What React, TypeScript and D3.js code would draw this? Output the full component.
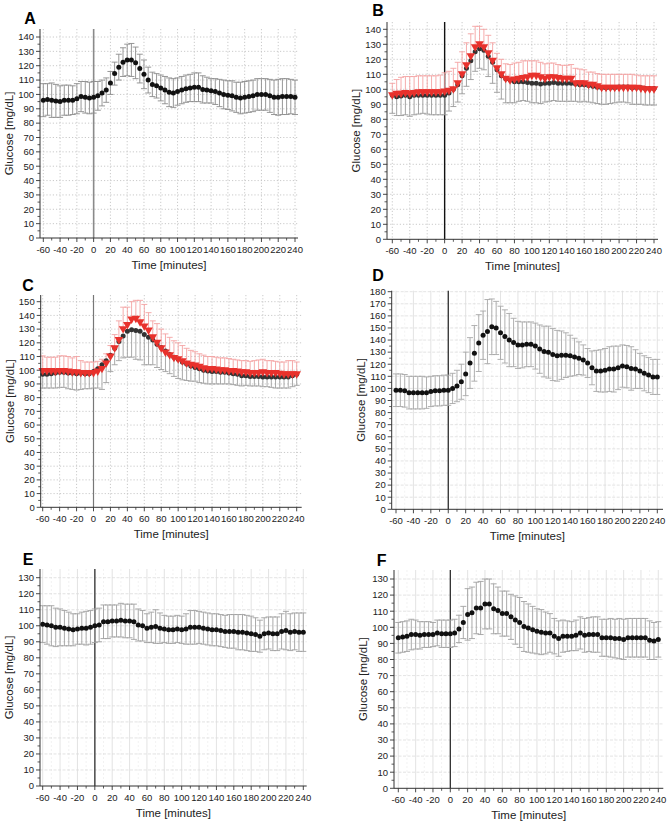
import * as d3 from "d3";

// sampling times (minutes relative to the meal)
const minutes = [
  -60, -55, -50, -45, -40, -35, -30, -25, -20, -15, -10, -5, 0, 5, 10, 15, 20, 25, 30, 35,
  40, 45, 50, 55, 60, 65, 70, 75, 80, 85, 90, 95, 100, 105, 110, 115, 120, 125, 130, 135,
  140, 145, 150, 155, 160, 165, 170, 175, 180, 185, 190, 195, 200, 205, 210, 215, 220, 225, 230, 235, 240,
];
const timeTicks = [-60, -40, -20, 0, 20, 40, 60, 80, 100, 120, 140, 160, 180, 200, 220, 240];

// A
const meanA = [
  96, 96.5, 96, 95.5, 95, 96, 96, 96, 97, 98.5, 98, 97.5, 98, 99, 101, 103, 108, 114.5, 119, 122.5,
  124, 124, 122, 118, 114, 110, 107, 106, 104.5, 103, 101.5, 101, 102, 103, 104, 104.5, 105, 105, 103.5, 103,
  102.5, 102, 101, 100, 99.5, 99, 98, 97.5, 98, 98.5, 99, 100, 100, 100, 99, 98, 98, 98.5, 98.5, 98.5, 98,
];
const sdA = [
  11.5, 11, 12, 11.5, 11, 10.5, 10.5, 10, 10.5, 10.5, 11, 11, 11, 10, 9, 8.5, 8, 8, 9, 10,
  11, 11.5, 11, 10, 10, 9, 8.5, 8.5, 9, 9.5, 10, 10, 9.5, 9.5, 9.5, 9.5, 10, 10, 9.5, 9,
  8.5, 9, 9.5, 10, 10, 10.5, 10.5, 11, 11, 11, 11, 11, 11, 11, 11.5, 12, 12.5, 12.5, 12.5, 12, 12,
];

// B
const meanB1 = [
  96, 95, 95.5, 96, 95, 96, 96, 96, 96, 96, 96, 96, 96, 97.5, 100, 103, 109, 114, 119, 125,
  127, 126, 122, 118, 113, 109, 107, 106, 105, 105, 105, 104.5, 104, 104, 103.5, 104, 104, 104.5, 104, 104,
  104, 104, 103.5, 103, 103, 102.5, 102, 101.5, 101, 101, 101, 101, 101.5, 101.5, 101.5, 101, 101, 101, 100.5, 100.5, 100.5,
];
const sdB1 = [
  12, 12.5, 13, 13, 13, 13, 12.5, 12, 12.5, 13, 13, 13, 13, 12, 11.5, 11.5, 12, 12, 12.5, 13,
  13, 13, 13.5, 14, 15, 15.5, 16, 15, 14, 13, 12.5, 12.5, 13, 13, 13, 12.5, 12, 12, 12, 12,
  12, 12, 11.5, 11.5, 11, 11, 11, 11, 11, 11, 10.5, 10, 10, 10, 10.5, 11, 11, 11, 11, 11, 11,
];
const meanB2 = [
  96, 97, 97, 97.5, 97, 97.5, 98, 98, 98, 98, 98, 98, 98.5, 99, 100, 104, 110, 116, 122, 128,
  130, 128, 124, 119, 114, 110, 107, 106, 106.5, 107, 107.5, 108, 109, 109, 108, 107, 108, 108, 107.5, 107,
  107, 107, 104, 104, 104, 103, 103, 102, 101, 101, 101, 101, 101, 101, 101, 101, 101, 100.5, 100, 100, 100,
];
const sdB2 = [
  8, 9.5, 11, 11, 11.5, 11, 11, 11, 11, 11, 11, 11.5, 12.5, 13, 14, 14, 15, 15, 15, 14,
  12, 12, 12, 12, 10, 10, 10, 10.5, 11, 11, 11.5, 11, 10, 10, 10, 10, 9.5, 9.5, 9, 9,
  9, 9.5, 10, 9.5, 9, 8.5, 8.5, 8.5, 9, 9, 9, 9, 9, 9, 9, 9, 8.5, 8.5, 9, 9, 9,
];

// C
const meanC1 = [
  97, 97, 97.5, 98, 98.5, 98.5, 98, 98, 97.5, 98, 97.5, 97.5, 99, 101, 104, 107, 111, 116, 121, 125,
  128.5, 129.5, 129, 128.5, 126, 124, 122, 119, 116.5, 114, 111.5, 109.5, 108, 106, 104.5, 103, 102, 101, 100, 99.5,
  99, 99, 98.5, 98.5, 98, 97.5, 97, 96, 96, 95.5, 95.5, 95.5, 95, 95, 95, 95, 95, 95, 95, 96, 97,
];
const sdC1 = [
  10, 10, 10.5, 11, 11, 11, 11.5, 12, 12, 12, 11, 11, 12, 14, 18, 16, 12, 12, 14, 16,
  19, 20, 21, 21, 22, 20, 18, 17, 16, 15, 14, 14, 14, 13, 12, 11, 10, 10, 9.5, 9.5,
  9, 9, 8.5, 8.5, 8, 8, 8, 7.5, 7, 7, 7, 7, 7, 7, 7.5, 8, 8, 8, 8, 8, 8,
];
const meanC2 = [
  99.5, 99.5, 99.5, 99, 99.5, 99.5, 99, 98.5, 98.5, 98, 98, 98, 98, 99, 101, 105, 110, 116, 122, 130,
  133, 137, 137.5, 135, 132, 129, 124, 120, 116, 113, 111, 109, 108, 106.5, 105, 104, 103.5, 102.5, 101.5, 101,
  101, 100.5, 100, 100, 99.5, 99.5, 99, 98.5, 98.5, 98, 98, 98, 98.5, 98, 98, 98, 97.5, 97, 97, 97, 97,
];
const sdC2 = [
  11, 10, 10, 10.5, 11, 11, 11, 10.5, 11.5, 9, 8, 8, 8, 7.5, 7, 7, 8, 10, 14, 16,
  13, 13, 13.5, 16, 16, 13, 12, 14, 14, 13.5, 13, 12.5, 12, 11.5, 11, 10.5, 10, 9.5, 9.5, 9,
  9, 9, 9, 9, 9, 8.5, 8.5, 8.5, 8.5, 8.5, 9, 9.5, 9.5, 9, 9, 8.5, 8.5, 9, 10, 10, 9,
];

// D
const meanD = [
  98.5, 98.5, 98, 96.5, 96.5, 96.5, 96.5, 96.5, 97.5, 98, 98, 98.5, 98.5, 100, 102, 105.5, 112, 121, 129, 137.5,
  144, 147, 151, 150, 146, 143, 140, 138, 136, 136, 136.5, 136.5, 135, 132.5, 130.5, 130, 128, 127, 127.5, 127.5,
  127, 126, 125, 123.5, 121, 117, 114.5, 114.5, 115, 116, 116, 117, 118.5, 118, 116.5, 116, 114.5, 112.5, 111, 109.5, 109.5,
];
const sdD = [
  13.5, 13.5, 13.5, 13.5, 13.5, 13.5, 13.5, 13, 12.5, 12.5, 12.5, 12.5, 12.5, 12.5, 13, 14.5, 18, 21, 23, 23.5,
  20, 26.5, 23, 22, 22, 22, 22, 20, 19.5, 19, 18.5, 18.5, 19, 20, 21, 21.5, 21.5, 21, 20, 18.5,
  17, 15.5, 13.5, 12.5, 12, 14, 17, 17.5, 18, 18.5, 19, 18, 17.5, 17.5, 18, 16, 14.5, 14.5, 14.5, 14.5, 14.5,
];

// E
const meanE = [
  101, 100.5, 100, 99, 99, 98.5, 98, 97.5, 98, 98.5, 98.5, 99, 100, 100.5, 102.5, 102.5, 103, 103, 103.5, 103,
  103, 102.5, 100.5, 100, 98.5, 99, 99.5, 98.5, 98, 97.5, 97.5, 98, 97.5, 98, 99, 99, 99, 98.5, 98, 97.5,
  97.5, 97, 96.5, 96.5, 96.5, 96, 96, 95.5, 95, 94.5, 93.5, 95, 95.5, 95, 95, 96.5, 97, 96, 96.5, 96, 96,
];
const sdE = [
  11.5, 12, 12.5, 12, 11.5, 11, 10.5, 10, 9.5, 10, 10.5, 10.5, 10.5, 10.5, 10.5, 10.5, 10, 10, 10.5, 10.5,
  10.5, 11, 10, 9.5, 9, 9.5, 10.5, 9.5, 8.5, 8.5, 8.5, 8.5, 8.5, 9.5, 10.5, 10.5, 10, 10, 10, 10,
  10, 10, 10, 10.5, 10.5, 11, 11, 11, 11, 10.5, 10, 10, 10, 10.5, 10.5, 11, 12, 11.5, 11.5, 12, 12,
];

// F
const meanF = [
  93.5, 94, 94.5, 95.5, 95.5, 95, 95.5, 95.5, 95.5, 96.5, 96, 96, 96, 96.5, 99, 103, 108, 109, 112, 112,
  114.5, 114.5, 111.5, 110.5, 108.5, 108.5, 106.5, 104.5, 103, 100.5, 99.5, 98.5, 97.5, 97, 96.5, 96.5, 94.5, 93, 94.5, 94.5,
  94.5, 95, 96.5, 95, 95.5, 95.5, 95.5, 93.5, 93.5, 93.5, 93, 93, 92.5, 93.5, 93.5, 93.5, 93.5, 93.5, 92, 91.5, 92.5,
];
const sdF = [
  9.5, 9.5, 9.5, 9.5, 9, 8.5, 8, 8, 7.5, 8, 8.5, 8.5, 8.5, 8.5, 8.5, 10, 16, 16, 16, 16.5,
  15.5, 15.5, 15.5, 14.5, 14, 14, 14, 15, 15.5, 15.5, 15, 14.5, 14, 14, 13, 12, 11, 11, 10, 9.5,
  9, 9.5, 10, 10.5, 10.5, 11, 11, 11.5, 11.5, 12, 12, 12.5, 12.5, 12, 12, 12, 12, 12, 12, 11.5, 11,
];

const FONT = "'Liberation Sans', Arial, sans-serif";

type Series = {
  mean: number[];
  sd: number[];
  mark: "dot" | "tri";
  fill: string;
  bars: "both" | "up" | "down";
  barColor: string;
};

type PanelCfg = {
  letter: string;
  lx: number;
  ly: number;
  left: number;
  right: number;
  x60: number;
  x240: number;
  y0: number;
  yMax: number;
  yMaxPx: number;
  top: number;
  grid: "dotted" | "solid";
  zeroColor: string;
  zeroWidth: number;
  series: Series[];
};

const panels: PanelCfg[] = [
  {
    letter: "A", lx: 30, ly: 18, left: 40, right: 298, x60: 43.3, x240: 295,
    y0: 238, yMax: 140, yMaxPx: 37, top: 29, grid: "dotted", zeroColor: "#8a8a8a", zeroWidth: 1.6,
    series: [{ mean: meanA, sd: sdA, mark: "dot", fill: "#111", bars: "both", barColor: "#8c8c8c" }],
  },
  {
    letter: "B", lx: 378, ly: 10, left: 387, right: 658, x60: 392.3, x240: 654,
    y0: 239.3, yMax: 140, yMaxPx: 29.3, top: 22, grid: "dotted", zeroColor: "#111", zeroWidth: 1.4,
    series: [
      { mean: meanB1, sd: sdB1, mark: "dot", fill: "#333", bars: "down", barColor: "#9a9a9a" },
      { mean: meanB2, sd: sdB2, mark: "tri", fill: "#e8312c", bars: "up", barColor: "#f4a3a3" },
    ],
  },
  {
    letter: "C", lx: 28, ly: 285, left: 40.7, right: 301.7, x60: 42.7, x240: 296.7,
    y0: 507.3, yMax: 150, yMaxPx: 301.7, top: 295, grid: "dotted", zeroColor: "#777", zeroWidth: 1.2,
    series: [
      { mean: meanC1, sd: sdC1, mark: "dot", fill: "#333", bars: "down", barColor: "#a0a0a0" },
      { mean: meanC2, sd: sdC2, mark: "tri", fill: "#e8312c", bars: "up", barColor: "#f4a3a3" },
    ],
  },
  {
    letter: "D", lx: 378, ly: 275, left: 391.7, right: 663, x60: 396, x240: 657.3,
    y0: 509.3, yMax: 180, yMaxPx: 291.7, top: 290.7, grid: "solid", zeroColor: "#222", zeroWidth: 1.2,
    series: [{ mean: meanD, sd: sdD, mark: "dot", fill: "#111", bars: "both", barColor: "#a8a8a8" }],
  },
  {
    letter: "E", lx: 28, ly: 559, left: 40, right: 306.7, x60: 42.7, x240: 303.3,
    y0: 786, yMax: 130, yMaxPx: 577.7, top: 569, grid: "solid", zeroColor: "#555", zeroWidth: 1.6,
    series: [{ mean: meanE, sd: sdE, mark: "dot", fill: "#111", bars: "both", barColor: "#a0a0a0" }],
  },
  {
    letter: "F", lx: 381.7, ly: 560, left: 394, right: 663.3, x60: 398.3, x240: 658.3,
    y0: 788.3, yMax: 130, yMaxPx: 579, top: 570, grid: "solid", zeroColor: "#222", zeroWidth: 1.2,
    series: [{ mean: meanF, sd: sdF, mark: "dot", fill: "#111", bars: "both", barColor: "#a0a0a0" }],
  },
];

const triPath = d3.symbol().type(d3.symbolTriangle).size(32)() as string;

const Panel = ({ cfg }: { cfg: PanelCfg }) => {
  const x = d3.scaleLinear().domain([-60, 240]).range([cfg.x60, cfg.x240]);
  const y = d3.scaleLinear().domain([0, cfg.yMax]).range([cfg.y0, cfg.yMaxPx]);
  const yTicks = d3.range(0, cfg.yMax + 1, 10);
  const yMinor = d3.range(5, cfg.yMax, 10);
  const xMinor = timeTicks.slice(0, -1).map((t) => t + 10);
  const cap = 3;
  const gridColor = cfg.grid === "dotted" ? "#bdbdbd" : "#dcdcdc";

  return (
    <g fontFamily={FONT}>
      {/* grid */}
      {cfg.grid === "solid" &&
        xMinor.map((t) => (
          <line key={"xm" + t} x1={x(t)} x2={x(t)} y1={cfg.top} y2={cfg.y0} stroke="#ececec" strokeWidth={0.7} strokeDasharray="2,2" />
        ))}
      {timeTicks.map((t) => (
        <line key={"xg" + t} x1={x(t)} x2={x(t)} y1={cfg.top} y2={cfg.y0} stroke={gridColor}
          strokeWidth={0.8} strokeDasharray={cfg.grid === "dotted" ? "1.2,2" : undefined} />
      ))}
      {yTicks.slice(1).map((v) => (
        <line key={"yg" + v} x1={cfg.left} x2={cfg.right} y1={y(v)} y2={y(v)} stroke={gridColor}
          strokeWidth={0.8} strokeDasharray={cfg.grid === "dotted" ? "1.2,2" : "3,1.5"} />
      ))}

      {/* meal time marker */}
      <line x1={x(0)} x2={x(0)} y1={cfg.top} y2={cfg.y0} stroke={cfg.zeroColor} strokeWidth={cfg.zeroWidth} />

      {/* error bars */}
      {cfg.series.map((s, si) => (
        <g key={"eb" + si} stroke={s.barColor} strokeWidth={0.9} fill="none">
          {minutes.map((t, i) => {
            const m = s.mean[i];
            const hi = s.bars === "down" ? m : m + s.sd[i];
            const lo = s.bars === "up" ? m : m - s.sd[i];
            const px = x(t);
            return (
              <g key={t}>
                <line x1={px} x2={px} y1={y(hi)} y2={y(lo)} />
                {s.bars !== "down" && <line x1={px - cap} x2={px + cap} y1={y(hi)} y2={y(hi)} />}
                {s.bars !== "up" && <line x1={px - cap} x2={px + cap} y1={y(lo)} y2={y(lo)} />}
              </g>
            );
          })}
        </g>
      ))}

      {/* markers */}
      {cfg.series.map((s, si) => (
        <g key={"mk" + si} fill={s.fill}>
          {minutes.map((t, i) =>
            s.mark === "dot" ? (
              <circle key={t} cx={x(t)} cy={y(s.mean[i])} r={2.5} />
            ) : (
              <path key={t} d={triPath} transform={`translate(${x(t)},${y(s.mean[i]) - 0.5}) rotate(180)`} />
            )
          )}
        </g>
      ))}

      {/* axes */}
      <line x1={cfg.left} x2={cfg.left} y1={cfg.top} y2={cfg.y0} stroke="#333" strokeWidth={1} />
      <line x1={cfg.left} x2={cfg.right} y1={cfg.y0} y2={cfg.y0} stroke="#333" strokeWidth={1} />
      {yTicks.map((v) => (
        <g key={"yt" + v}>
          <line x1={cfg.left - 4} x2={cfg.left} y1={y(v)} y2={y(v)} stroke="#333" strokeWidth={0.9} />
          <text x={cfg.left - 6} y={y(v)} dy="0.35em" textAnchor="end" fontSize={9.5} fill="#222">{v}</text>
        </g>
      ))}
      {yMinor.map((v) => (
        <line key={"ymt" + v} x1={cfg.left - 2.5} x2={cfg.left} y1={y(v)} y2={y(v)} stroke="#333" strokeWidth={0.8} />
      ))}
      {timeTicks.map((t) => (
        <g key={"xt" + t}>
          <line x1={x(t)} x2={x(t)} y1={cfg.y0} y2={cfg.y0 + 4} stroke="#333" strokeWidth={0.9} />
          <text x={x(t)} y={cfg.y0 + 14.5} textAnchor="middle" fontSize={9.5} fill="#222">{t}</text>
        </g>
      ))}
      {xMinor.map((t) => (
        <line key={"xmt" + t} x1={x(t)} x2={x(t)} y1={cfg.y0} y2={cfg.y0 + 2.5} stroke="#333" strokeWidth={0.8} />
      ))}

      {/* titles */}
      <text x={(cfg.left + cfg.right) / 2} y={cfg.y0 + 27} dy="0.35em" textAnchor="middle" fontSize={11.5} fill="#222">
        Time [minutes]
      </text>
      <text transform={`translate(${cfg.left - 31},${(cfg.top + cfg.y0) / 2}) rotate(-90)`} dy="0.35em"
        textAnchor="middle" fontSize={11.5} fill="#222">
        Glucose [mg/dL]
      </text>
      <text x={cfg.lx} y={cfg.ly} dy="0.36em" textAnchor="middle" fontSize={16} fontWeight="bold" fill="#000">
        {cfg.letter}
      </text>
    </g>
  );
};

export default function App() {
  return (
    <div style={{ position: "absolute", left: 0, top: 0 }}>
      <svg width={670} height={826} style={{ display: "block", background: "#fff" }}>
        {panels.map((p) => (
          <Panel key={p.letter} cfg={p} />
        ))}
      </svg>
    </div>
  );
}
